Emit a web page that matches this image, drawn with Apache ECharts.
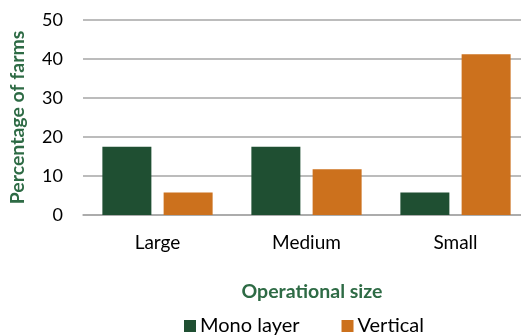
<!DOCTYPE html>
<html>
<head>
<meta charset="utf-8">
<script src="https://cdn.jsdelivr.net/npm/echarts@6/dist/echarts.min.js"></script>
<style>
  html, body { margin: 0; padding: 0; background: #ffffff; }
  #chart { width: 521px; height: 336px; }
</style>
</head>
<body>
<div id="chart"></div>
<script>
// Share of farms by operational size, split by housing system
const categories = ['Large', 'Medium', 'Small'];
const monoLayer = [17.5, 17.5, 5.8];
const vertical = [5.8, 11.7, 41.2];
const yTicks = [0, 10, 20, 30, 40, 50];

const GREEN = '#1F4F32';
const ORANGE = '#CC711D';
const TITLE_GREEN = '#2E6B45';
const FONT = 'Lato';

const chart = echarts.init(document.getElementById('chart'), null, { renderer: 'canvas' });

chart.setOption({
  animation: false,
  textStyle: { fontFamily: FONT },
  grid: {
    left: 83, width: 447, top: 20, height: 195,
    containLabel: false,
    outerBoundsMode: 'none'
  },
  legend: {
    data: ['Mono layer', 'Vertical'],
    top: 316,
    left: 184,
    padding: 0,
    itemWidth: 12,
    itemHeight: 12,
    itemGap: 42,
    icon: 'rect',
    textStyle: { fontFamily: FONT, fontSize: 20, color: '#000000', padding: [0, 0, 0, -1] }
  },
  xAxis: {
    type: 'category',
    data: categories,
    axisTick: { show: false },
    axisLine: { show: true, lineStyle: { color: '#A6A6A6', width: 1.5 } },
    axisLabel: { fontFamily: FONT, fontSize: 19, color: '#000000', margin: 18 },
    name: 'Operational size',
    nameLocation: 'middle',
    nameGap: 67,
    nameTextStyle: {
      fontFamily: FONT, fontSize: 19.5, fontWeight: 'bold', color: TITLE_GREEN,
      padding: [0, 0, 0, 11]
    }
  },
  yAxis: {
    type: 'value',
    min: yTicks[0],
    max: yTicks[yTicks.length - 1],
    interval: yTicks[1] - yTicks[0],
    axisLine: { show: false },
    axisTick: { show: false },
    splitLine: { lineStyle: { color: '#A6A6A6', width: 1.5 } },
    axisLabel: { fontFamily: FONT, fontSize: 18, color: '#000000', margin: 20 },
    name: 'Percentage of farms',
    nameLocation: 'middle',
    nameGap: 55,
    nameTextStyle: { fontFamily: FONT, fontSize: 19.5, fontWeight: 'bold', color: TITLE_GREEN }
  },
  series: [
    {
      name: 'Mono layer',
      type: 'bar',
      data: monoLayer,
      barWidth: 49,
      barGap: '25%',
      itemStyle: { color: GREEN }
    },
    {
      name: 'Vertical',
      type: 'bar',
      data: vertical,
      barWidth: 49,
      barGap: '25%',
      itemStyle: { color: ORANGE }
    }
  ]
});
</script>
</body>
</html>
